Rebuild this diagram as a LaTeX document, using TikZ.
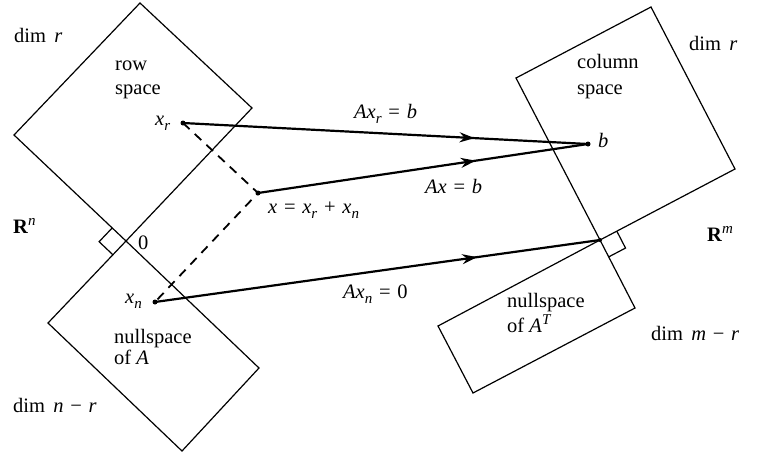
\documentclass[tikz,border=0pt]{standalone}
\usepackage{fontspec}
\setmainfont{Liberation Serif}
\usetikzlibrary{calc,arrows.meta,decorations.markings}
\newcommand\iv[1]{\textit{#1}}
\newcommand\mysb[1]{\raisebox{-5.5pt}{\fontsize{15}{15}\selectfont\textit{#1}}}
\newcommand\mysp[1]{\raisebox{8pt}{\fontsize{15}{15}\selectfont\textit{#1}}}
\newcommand\eqsp{\hspace{0.33em}}
\begin{document}
\begin{tikzpicture}[x=1pt,y=-1pt,
  lbl/.style={anchor=base west,inner sep=0pt,font=\fontsize{20.5}{24}\selectfont},
  plane/.style={line width=1.2pt,line join=miter},
  dotnode/.style={circle,fill=black,inner sep=0pt,minimum size=5pt},
  dashline/.style={line width=1.8pt,dash pattern=on 9pt off 7pt},
  maparrow/.style={line width=2.2pt,decoration={markings,
      mark=at position #1 with {\arrow{Stealth[length=15pt,width=10pt]}}},postaction=decorate}
]
\useasboundingbox (0,0) rectangle (768,461);
% plane corners
\coordinate (T1) at (140,3);
\coordinate (R1) at (252,108);
\coordinate (O1) at (126,241);
\coordinate (L1) at (14,135);
\coordinate (NL) at (48,323);
\coordinate (NB) at (182,451);
\coordinate (NR) at (259,368);
\coordinate (CL) at (516,78);
\coordinate (CT) at (651,7);
\coordinate (CR) at (735,169);
\coordinate (O2) at (600,240);
\coordinate (MR) at (635,308);
\coordinate (MB) at (473,393);
\coordinate (ML) at (438,326);
% planes
\draw[plane] (T1) -- (R1) -- (O1) -- (L1) -- cycle;
\draw[plane] (O1) -- (NR) -- (NB) -- (NL) -- cycle;
\draw[plane] (CL) -- (CT) -- (CR) -- (O2) -- cycle;
\draw[plane] (O2) -- (MR) -- (MB) -- (ML) -- cycle;
% right angle marks
\coordinate (rl1) at ($(O1)!19pt!(L1)$);
\coordinate (rl3) at ($(O1)!19pt!(NL)$);
\draw[plane] (rl1) -- ($(rl1)+(rl3)-(O1)$) -- (rl3);
\coordinate (ra1) at ($(O2)!19pt!(CR)$);
\coordinate (ra3) at ($(O2)!19pt!(MR)$);
\draw[plane] (ra1) -- ($(ra1)+(ra3)-(O2)$) -- (ra3);
% points
\node[dotnode] (xr) at (183,123) {};
\node[dotnode] (x) at (258,193) {};
\node[dotnode] (xn) at (155,302) {};
\node[dotnode] (b) at (588,144) {};
\node[dotnode,minimum size=4pt] (o2) at (O2) {};
% dashed decomposition
\draw[dashline] (xr.center) -- (x.center) -- (xn.center);
% mapping arrows
\draw[maparrow=0.72] (xr.center) -- (b.center);
\draw[maparrow=0.66] (x.center) -- (b.center);
\draw[maparrow=0.724] (xn.center) -- (o2.center);
% labels
\node[lbl] (dimr1) at (14,42) {dim\hspace{0.4em}\iv{r}};
\node[lbl] (row) at (115,70) {row};
\node[lbl] (space1) at (115,94) {space};
\node[lbl] (Rn) at (13,233) {\textbf{R}\mysp{n}};
\node[lbl] (zero) at (138,249) {0};
\node[lbl] (xrl) at (155,125) {\iv{x}\mysb{r}};
\node[lbl] (xnl) at (125,303) {\iv{x}\mysb{n}};
\node[lbl] (null1) at (114,343) {nullspace};
\node[lbl] (ofA) at (114,364) {of \iv{A}};
\node[lbl] (dimnr) at (13,412) {dim\hspace{0.4em}\iv{n}\eqsp−\eqsp\iv{r}};
\node[lbl] (Axrb) at (354,118) {\iv{Ax}\mysb{r}\eqsp=\eqsp\iv{b}};
\node[lbl] (xsum) at (268,213) {\iv{x}\eqsp=\eqsp\iv{x}\mysb{r}\eqsp+\eqsp\iv{x}\mysb{n}};
\node[lbl] (Axb) at (425,193) {\iv{Ax}\eqsp=\eqsp\iv{b}};
\node[lbl] (Axn0) at (343,298) {\iv{Ax}\mysb{n}\eqsp=\eqsp0};
\node[lbl] (bl) at (598,147) {\iv{b}};
\node[lbl] (column) at (577,68) {column};
\node[lbl] (space2) at (577,94) {space};
\node[lbl] (dimr2) at (689,50) {dim\hspace{0.4em}\iv{r}};
\node[lbl] (Rm) at (707,241) {\textbf{R}\mysp{m}};
\node[lbl] (null2) at (507,307) {nullspace};
\node[lbl] (ofAT) at (507,332) {of \iv{A}\mysp{T}};
\node[lbl] (dimmr) at (651,340) {dim\hspace{0.4em}\iv{m}\eqsp−\eqsp\iv{r}};
\end{tikzpicture}
\end{document}
